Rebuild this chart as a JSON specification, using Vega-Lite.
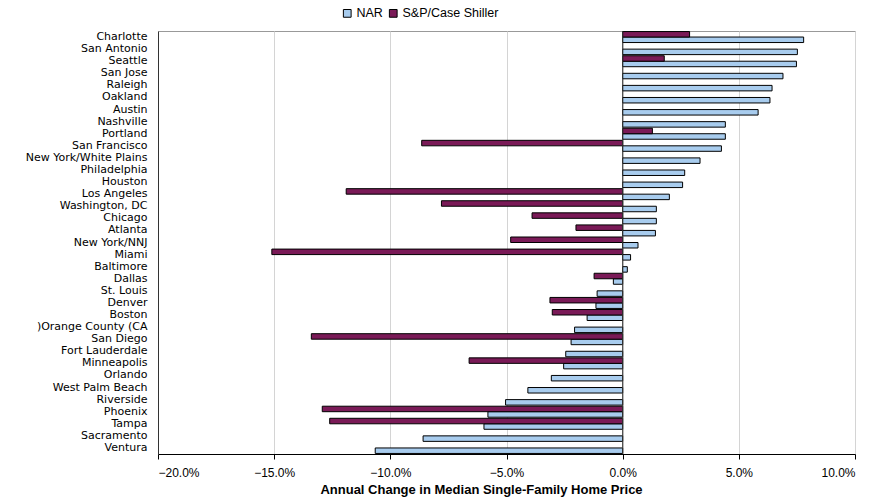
{
  "$schema": "https://vega.github.io/schema/vega-lite/v6.json",
  "width": 697,
  "height": 423,
  "autosize": {"type": "none"},
  "padding": {"left": 158, "top": 31, "right": 26, "bottom": 47},
  "background": "white",
  "config": {
    "font": "Liberation Sans",
    "view": {"stroke": "#999999", "strokeWidth": 1}
  },
  "data": {
    "values": [
      {"city": "Charlotte", "series": "NAR", "v": 7.79},
      {"city": "Charlotte", "series": "S&P/Case Shiller", "v": 2.88},
      {"city": "San Antonio", "series": "NAR", "v": 7.52},
      {"city": "Seattle", "series": "NAR", "v": 7.48},
      {"city": "Seattle", "series": "S&P/Case Shiller", "v": 1.79},
      {"city": "San Jose", "series": "NAR", "v": 6.9},
      {"city": "Raleigh", "series": "NAR", "v": 6.43},
      {"city": "Oakland", "series": "NAR", "v": 6.34},
      {"city": "Austin", "series": "NAR", "v": 5.83},
      {"city": "Nashville", "series": "NAR", "v": 4.42},
      {"city": "Portland", "series": "NAR", "v": 4.42},
      {"city": "Portland", "series": "S&P/Case Shiller", "v": 1.28},
      {"city": "San Francisco", "series": "NAR", "v": 4.25},
      {"city": "San Francisco", "series": "S&P/Case Shiller", "v": -8.65},
      {"city": "New York/White Plains", "series": "NAR", "v": 3.33},
      {"city": "Philadelphia", "series": "NAR", "v": 2.67},
      {"city": "Houston", "series": "NAR", "v": 2.58},
      {"city": "Los Angeles", "series": "NAR", "v": 2.01},
      {"city": "Los Angeles", "series": "S&P/Case Shiller", "v": -11.9},
      {"city": "Washington, DC", "series": "NAR", "v": 1.45},
      {"city": "Washington, DC", "series": "S&P/Case Shiller", "v": -7.8},
      {"city": "Chicago", "series": "NAR", "v": 1.45},
      {"city": "Chicago", "series": "S&P/Case Shiller", "v": -3.9},
      {"city": "Atlanta", "series": "NAR", "v": 1.41},
      {"city": "Atlanta", "series": "S&P/Case Shiller", "v": -2.01},
      {"city": "New York/NNJ", "series": "NAR", "v": 0.66},
      {"city": "New York/NNJ", "series": "S&P/Case Shiller", "v": -4.82},
      {"city": "Miami", "series": "NAR", "v": 0.34},
      {"city": "Miami", "series": "S&P/Case Shiller", "v": -15.1},
      {"city": "Baltimore", "series": "NAR", "v": 0.2},
      {"city": "Dallas", "series": "NAR", "v": -0.4},
      {"city": "Dallas", "series": "S&P/Case Shiller", "v": -1.23},
      {"city": "St. Louis", "series": "NAR", "v": -1.1},
      {"city": "Denver", "series": "NAR", "v": -1.15},
      {"city": "Denver", "series": "S&P/Case Shiller", "v": -3.13},
      {"city": "Boston", "series": "NAR", "v": -1.53},
      {"city": "Boston", "series": "S&P/Case Shiller", "v": -3.03},
      {"city": ")Orange County (CA", "series": "NAR", "v": -2.07},
      {"city": "San Diego", "series": "NAR", "v": -2.22},
      {"city": "San Diego", "series": "S&P/Case Shiller", "v": -13.4},
      {"city": "Fort Lauderdale", "series": "NAR", "v": -2.45},
      {"city": "Minneapolis", "series": "NAR", "v": -2.54},
      {"city": "Minneapolis", "series": "S&P/Case Shiller", "v": -6.61},
      {"city": "Orlando", "series": "NAR", "v": -3.07},
      {"city": "West Palm Beach", "series": "NAR", "v": -4.08},
      {"city": "Riverside", "series": "NAR", "v": -5.04},
      {"city": "Phoenix", "series": "NAR", "v": -5.8},
      {"city": "Phoenix", "series": "S&P/Case Shiller", "v": -12.93},
      {"city": "Tampa", "series": "NAR", "v": -5.97},
      {"city": "Tampa", "series": "S&P/Case Shiller", "v": -12.61},
      {"city": "Sacramento", "series": "NAR", "v": -8.59},
      {"city": "Ventura", "series": "NAR", "v": -10.65}
    ]
  },
  "layer": [
    {
      "mark": {"type": "bar", "stroke": "#000000", "strokeWidth": 1},
      "encoding": {
        "y": {
          "field": "city",
          "type": "nominal",
          "sort": ["Charlotte", "San Antonio", "Seattle", "San Jose", "Raleigh", "Oakland", "Austin", "Nashville", "Portland", "San Francisco", "New York/White Plains", "Philadelphia", "Houston", "Los Angeles", "Washington, DC", "Chicago", "Atlanta", "New York/NNJ", "Miami", "Baltimore", "Dallas", "St. Louis", "Denver", "Boston", ")Orange County (CA", "San Diego", "Fort Lauderdale", "Minneapolis", "Orlando", "West Palm Beach", "Riverside", "Phoenix", "Tampa", "Sacramento", "Ventura"],
          "scale": {"paddingInner": 0, "paddingOuter": 0},
          "axis": {
            "title": null,
            "ticks": false,
            "domain": true,
            "domainColor": "#333333",
            "labelPadding": 11,
            "labelFont": "DejaVu Sans",
            "labelFontSize": 11,
            "labelColor": "#000000",
            "labelLimit": 200
          }
        },
        "yOffset": {
          "field": "series",
          "type": "nominal",
          "scale": {"domain": ["S&P/Case Shiller", "NAR"], "paddingInner": 0, "paddingOuter": 0.1}
        },
        "x": {
          "field": "v",
          "type": "quantitative",
          "scale": {"domain": [-20, 10], "nice": false, "zero": false},
          "axis": {
            "title": "Annual Change in Median Single-Family Home Price",
            "titleFontSize": 13,
            "titleFontWeight": "bold",
            "titleColor": "#000000",
            "titlePadding": 5,
            "titleX": 323,
            "titleAlign": "center",
            "values": [-20, -15, -10, -5, 0, 5, 10],
            "labelExpr": "format(datum.value / 100, '.1%')",
            "labelFontSize": 12,
            "labelColor": "#000000",
            "labelPadding": 8,
            "tickColor": "#000000",
            "tickSize": 5,
            "domainColor": "#000000",
            "grid": true,
            "gridColor": "#d4d4d4",
            "gridWidth": 1
          }
        },
        "color": {
          "field": "series",
          "type": "nominal",
          "scale": {"domain": ["NAR", "S&P/Case Shiller"], "range": ["#A8CCEE", "#7A1A57"]},
          "legend": {
            "title": null,
            "orient": "none",
            "direction": "horizontal",
            "legendX": 183,
            "legendY": -24,
            "symbolType": "square",
            "symbolSize": 60,
            "symbolStrokeColor": "#000000",
            "symbolStrokeWidth": 1,
            "labelFontSize": 12.5,
            "labelColor": "#000000",
            "columnPadding": 4,
            "labelOffset": 3
          }
        }
      }
    },
    {
      "data": {"values": [{"z": 0}]},
      "mark": {"type": "rule", "color": "#333333", "strokeWidth": 1},
      "encoding": {"x": {"field": "z", "type": "quantitative"}}
    }
  ]
}
